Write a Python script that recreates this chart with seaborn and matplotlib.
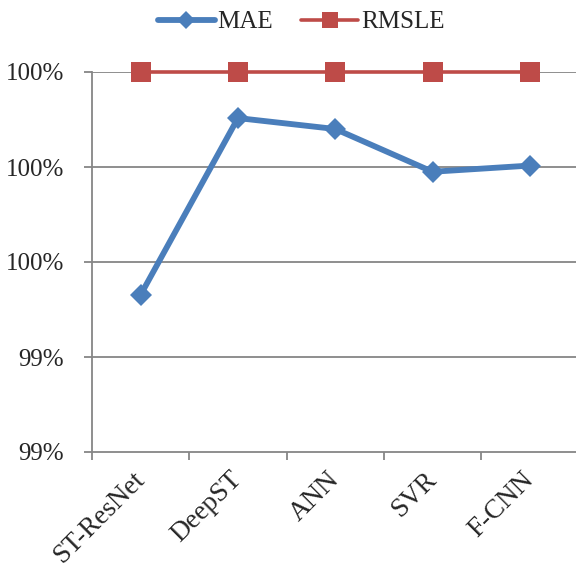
import matplotlib
matplotlib.use("Agg")
import matplotlib.pyplot as plt
import matplotlib.ticker as mticker
import seaborn as sns
import pandas as pd

models = ["ST-ResNet", "DeepST", "ANN", "SVR", "F-CNN"]
mae = [0.99531, 0.99903, 0.99880, 0.99790, 0.99803]
rmsle = [1.0, 1.0, 1.0, 1.0, 1.0]
y_ticks = [0.992, 0.994, 0.996, 0.998, 1.000]

df = pd.DataFrame({
    "model": models * 2,
    "value": mae + rmsle,
    "metric": ["MAE"] * len(models) + ["RMSLE"] * len(models),
})

sns.set_theme(style="white")
plt.rcParams["font.family"] = ["Liberation Serif", "DejaVu Serif"]

fig = plt.figure(figsize=(5.76, 5.63), dpi=100)
ax = fig.add_axes([92 / 576, 111 / 563, 486.5 / 576, 380 / 563])

grid_col = "#868686"
for y in y_ticks[1:]:
    ax.axhline(y, color=grid_col, lw=1.3, zorder=0)

blue = "#4A7EBB"
red = "#BE4B48"
sns.lineplot(data=df[df.metric == "RMSLE"], x="model", y="value", ax=ax,
             color=red, lw=2.6, marker="s", markersize=14,
             markeredgewidth=0, label="RMSLE", zorder=3, clip_on=False)
sns.lineplot(data=df[df.metric == "MAE"], x="model", y="value", ax=ax,
             color=blue, lw=4.2, marker="D", markersize=11,
             markeredgewidth=0, label="MAE", zorder=4, clip_on=False)

ax.set_xlim(-0.5, len(models) - 0.5)
ax.set_ylim(y_ticks[0], y_ticks[-1])
ax.set_yticks(y_ticks)
ax.yaxis.set_major_formatter(mticker.PercentFormatter(xmax=1.0, decimals=0))
ax.set_xlabel("")
ax.set_ylabel("")

# category labels at centres, tick marks at category boundaries
ax.set_xticks(range(len(models)))
ax.set_xticklabels(models, rotation=45, ha="right", va="center",
                   rotation_mode="anchor", fontsize=19.5)
ax.set_xticks([i - 0.5 for i in range(len(models) + 1)], minor=True)
ax.tick_params(axis="x", which="major", length=0, pad=17)
ax.tick_params(axis="x", which="minor", length=6, width=1.3, color=grid_col,
               direction="out", bottom=True)
ax.tick_params(axis="y", length=6, width=1.3, color=grid_col, direction="out",
               labelsize=18, pad=14, left=True)

for side in ["top", "right"]:
    ax.spines[side].set_visible(False)
for side in ["left", "bottom"]:
    ax.spines[side].set_color(grid_col)
    ax.spines[side].set_linewidth(1.3)

handles, labels = ax.get_legend_handles_labels()
order = [labels.index("MAE"), labels.index("RMSLE")]
ax.legend([handles[i] for i in order], [labels[i] for i in order],
          loc="center", bbox_to_anchor=(301 / 576, 1 - 22 / 563),
          bbox_transform=fig.transFigure, ncol=2, frameon=False,
          fontsize=18, handlelength=2.3, handletextpad=0.1, columnspacing=1.1,
          markerscale=0.8)

fig.savefig("out.png", dpi=100)
